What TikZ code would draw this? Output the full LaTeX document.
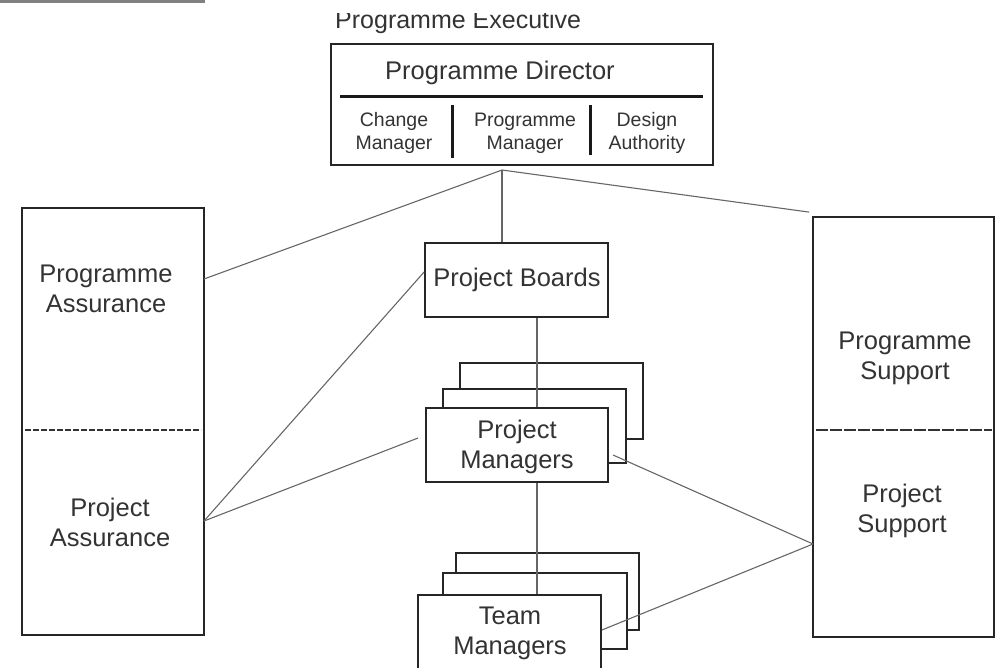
\documentclass[tikz,border=0pt]{standalone}
\usepackage{fontspec}
\setmainfont{Liberation Sans}
\begin{document}
\begin{tikzpicture}[x=1pt,y=-1pt,
  frame/.style={draw=black!85, line width=1.8pt, fill=white, inner sep=0pt},
  link/.style={draw=black!60, line width=1.1pt},
  lbl/.style={text=black!80, font=\fontsize{25.5}{30}\selectfont, align=center, inner sep=0pt},
  sub/.style={text=black!80, font=\fontsize{19.5}{23}\selectfont, align=center, inner sep=0pt},
  rule/.style={draw=black!90, line width=3pt},
  split/.style={draw=black!80, line width=1.4pt, dash pattern=on 6pt off 2pt}]
\useasboundingbox (0,0) rectangle (996,667);
\clip (0,0) rectangle (996,667);

% strip along the top edge
\fill[black!50] (0,0) rectangle (205,3);

% heading, cut by the top margin
\begin{scope}
  \clip (0,13) rectangle (996,667);
  \node[lbl, font=\fontsize{25}{30}\selectfont, anchor=base west] (exec) at (335,28) {Programme Executive};
\end{scope}

% programme executive box
\node[frame, minimum width=382pt, minimum height=121pt] (top) at (522,104.5) {};
\node[lbl] (dir) at (500,73) {Programme Director};
\draw[rule] (340,96) -- (703,96);
\draw[rule] (452,105) -- (452,158);
\draw[rule] (590,105) -- (590,155);
\node[sub] (chg) at (394,133) {Change\\Manager};
\node[sub] (pgm) at (525,133) {Programme\\Manager};
\node[sub] (dsg) at (647,133) {Design\\Authority};

% assurance column
\node[frame, minimum width=182pt, minimum height=427pt] (pa) at (113,421.5) {};
\draw[split] (25,430) -- (201,430);
\node[lbl] (paT) at (106,289) {Programme\\Assurance};
\node[lbl] (paB) at (110,522) {Project\\Assurance};

% support column
\node[frame, minimum width=181pt, minimum height=420pt] (ps) at (903.5,427) {};
\draw[split, dash pattern=on 12pt off 2pt] (816,430) -- (992,430);
\node[lbl] (psT) at (905,358) {Programme\\Support};
\node[lbl] (psB) at (902,511) {Project\\Support};

% project boards
\node[frame, minimum width=183pt, minimum height=74pt] (pb) at (516.5,280) {};
\node[lbl] (pbT) at (517,280) {Project Boards};

% stacked boxes behind the front cards
\node[frame, minimum width=183pt, minimum height=76pt] (pmK) at (551.5,401) {};
\node[frame, minimum width=183pt, minimum height=74pt] (pmM) at (534.5,426) {};
\node[frame, minimum width=183pt, minimum height=77pt] (tmK) at (547.5,591.5) {};
\node[frame, minimum width=184pt, minimum height=76pt] (tmM) at (535,611) {};

% connectors
\coordinate (hub) at (502,170);
\coordinate (spine) at (537,0);
\coordinate (paA) at (204,279);
\coordinate (paC) at (204,521);
\coordinate (psC) at (813,544);
\draw[link] (hub) -- (paA);
\draw[link] (hub) -- (hub |- pb.north);
\draw[link] (hub) -- ([xshift=-3pt,yshift=4pt]ps.north west);
\draw[link] (paC) -- ([yshift=8pt]pb.west);
\draw[link] (paC) -- (418,438);
\draw[link] (613,455) -- (psC);
\draw[link] (597,632) -- (psC);
\draw[link] (spine |- pb.south) -- (spine |- 0,408);
\draw[link] (spine |- 0,482) -- (spine |- 0,595);

% front cards
\node[frame, minimum width=182pt, minimum height=74pt] (pmF) at (517,445) {};
\node[lbl] (pmT) at (517,447) {Project\\Managers};
\node[frame, minimum width=183pt, minimum height=75pt] (tmF) at (509.5,632.5) {};
\node[lbl] (tmT) at (510,633) {Team\\Managers};
\end{tikzpicture}
\end{document}
